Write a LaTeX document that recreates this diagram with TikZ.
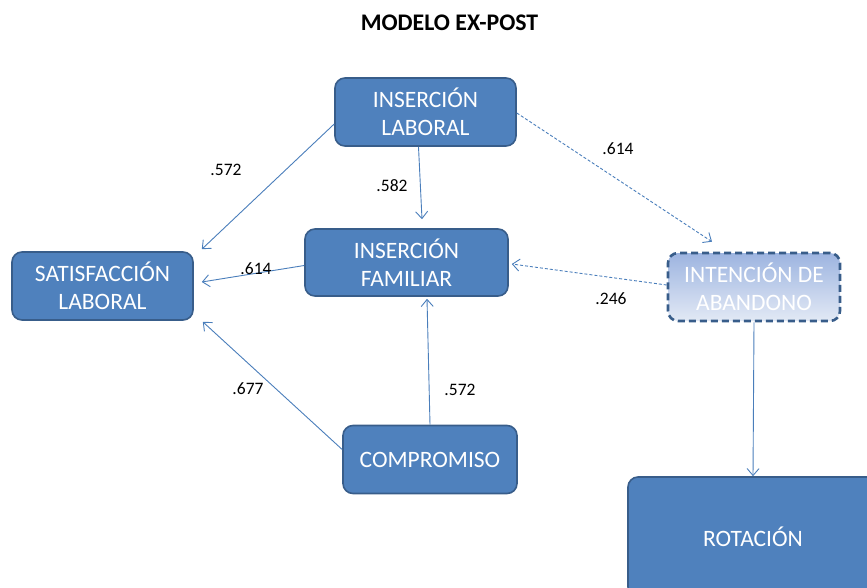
\documentclass[tikz,border=0pt]{standalone}
\usepackage{fontspec}
\setmainfont{Carlito}
\usetikzlibrary{arrows.meta,shapes.misc}

\definecolor{boxfill}{HTML}{4F81BD}
\definecolor{boxline}{HTML}{385D8A}
\definecolor{linkcol}{HTML}{4A7EBB}
\definecolor{fadetop}{HTML}{9DB4E0}
\definecolor{fadebot}{HTML}{E2E9F5}

\tikzset{
  box/.style={rectangle, rounded corners=10pt, draw=boxline, line width=1.6pt,
    fill=boxfill, text=white, align=center, inner sep=0pt,
    font=\fontsize{23.5}{28}\selectfont},
  fadebox/.style={box, fill=none, top color=fadetop, bottom color=fadebot,
    dashed, dash pattern=on 7pt off 4pt, line width=2.6pt},
  link/.style={draw=linkcol, line width=0.9pt,
    -{Straight Barb[length=7pt,width=12pt,line width=0.9pt]}},
  dlink/.style={link, dash pattern=on 3pt off 2pt},
  coef/.style={font=\fontsize{17.5}{20}\selectfont, inner sep=0pt},
}

\begin{document}
\begin{tikzpicture}[x=1pt,y=-1pt]
  \useasboundingbox (0,0) rectangle (867,587);
  \clip (0,0) rectangle (867,587);

  % title
  \node[font=\bfseries\fontsize{23.8}{27}\selectfont] (title) at (449.5,23) {MODELO EX-POST};

  % constructs
  \node[box, minimum width=181pt, minimum height=68pt] (il) at (425.5,112) {INSERCIÓN\\LABORAL};
  \node[box, minimum width=203pt, minimum height=67pt] (if) at (406.5,262.5) {INSERCIÓN\\FAMILIAR};
  \node[box, minimum width=181pt, minimum height=68pt] (sl) at (102.5,286) {SATISFACCIÓN\\LABORAL};
  \node[fadebox, minimum width=172pt, minimum height=68pt] (ia) at (754,287) {INTENCIÓN DE\\ABANDONO};
  \node[box, minimum width=174pt, minimum height=68pt] (comp) at (430,459.5) {COMPROMISO};
  \node[box, minimum width=250pt, minimum height=120pt] (rot) at (753,537) {ROTACIÓN};

  % paths
  \draw[link] ([yshift=-12pt]il.west) -- ([xshift=8pt,yshift=2pt]sl.north east);
  \draw[link] ([xshift=-7pt]il.south) -- ([xshift=15.5pt,yshift=9pt]if.north);
  \draw[link] ([yshift=-3pt]if.west) -- ([xshift=8pt,yshift=4pt]sl.east);
  \draw[link] ([yshift=10pt]comp.west) -- ([xshift=9pt,yshift=-1pt]sl.south east);
  \draw[link] (comp.north) -- ([xshift=20.5pt,yshift=-2pt]if.south);
  \draw[dlink] ([yshift=-1pt]il.east) -- ([xshift=-42pt,yshift=10pt]ia.north);
  \draw[dlink] ([yshift=2pt]ia.west) -- ([xshift=3pt,yshift=-1.5pt]if.east);
  \draw[link] (ia.south) -- (rot.north);

  % coefficients
  \node[coef] (c1) at (226,170) {.572};
  \node[coef] (c2) at (392,186) {.582};
  \node[coef] (c3) at (256,269) {.614};
  \node[coef] (c4) at (618,149) {.614};
  \node[coef] (c5) at (611,299) {.246};
  \node[coef] (c6) at (248,389) {.677};
  \node[coef] (c7) at (460,390) {.572};
\end{tikzpicture}
\end{document}
